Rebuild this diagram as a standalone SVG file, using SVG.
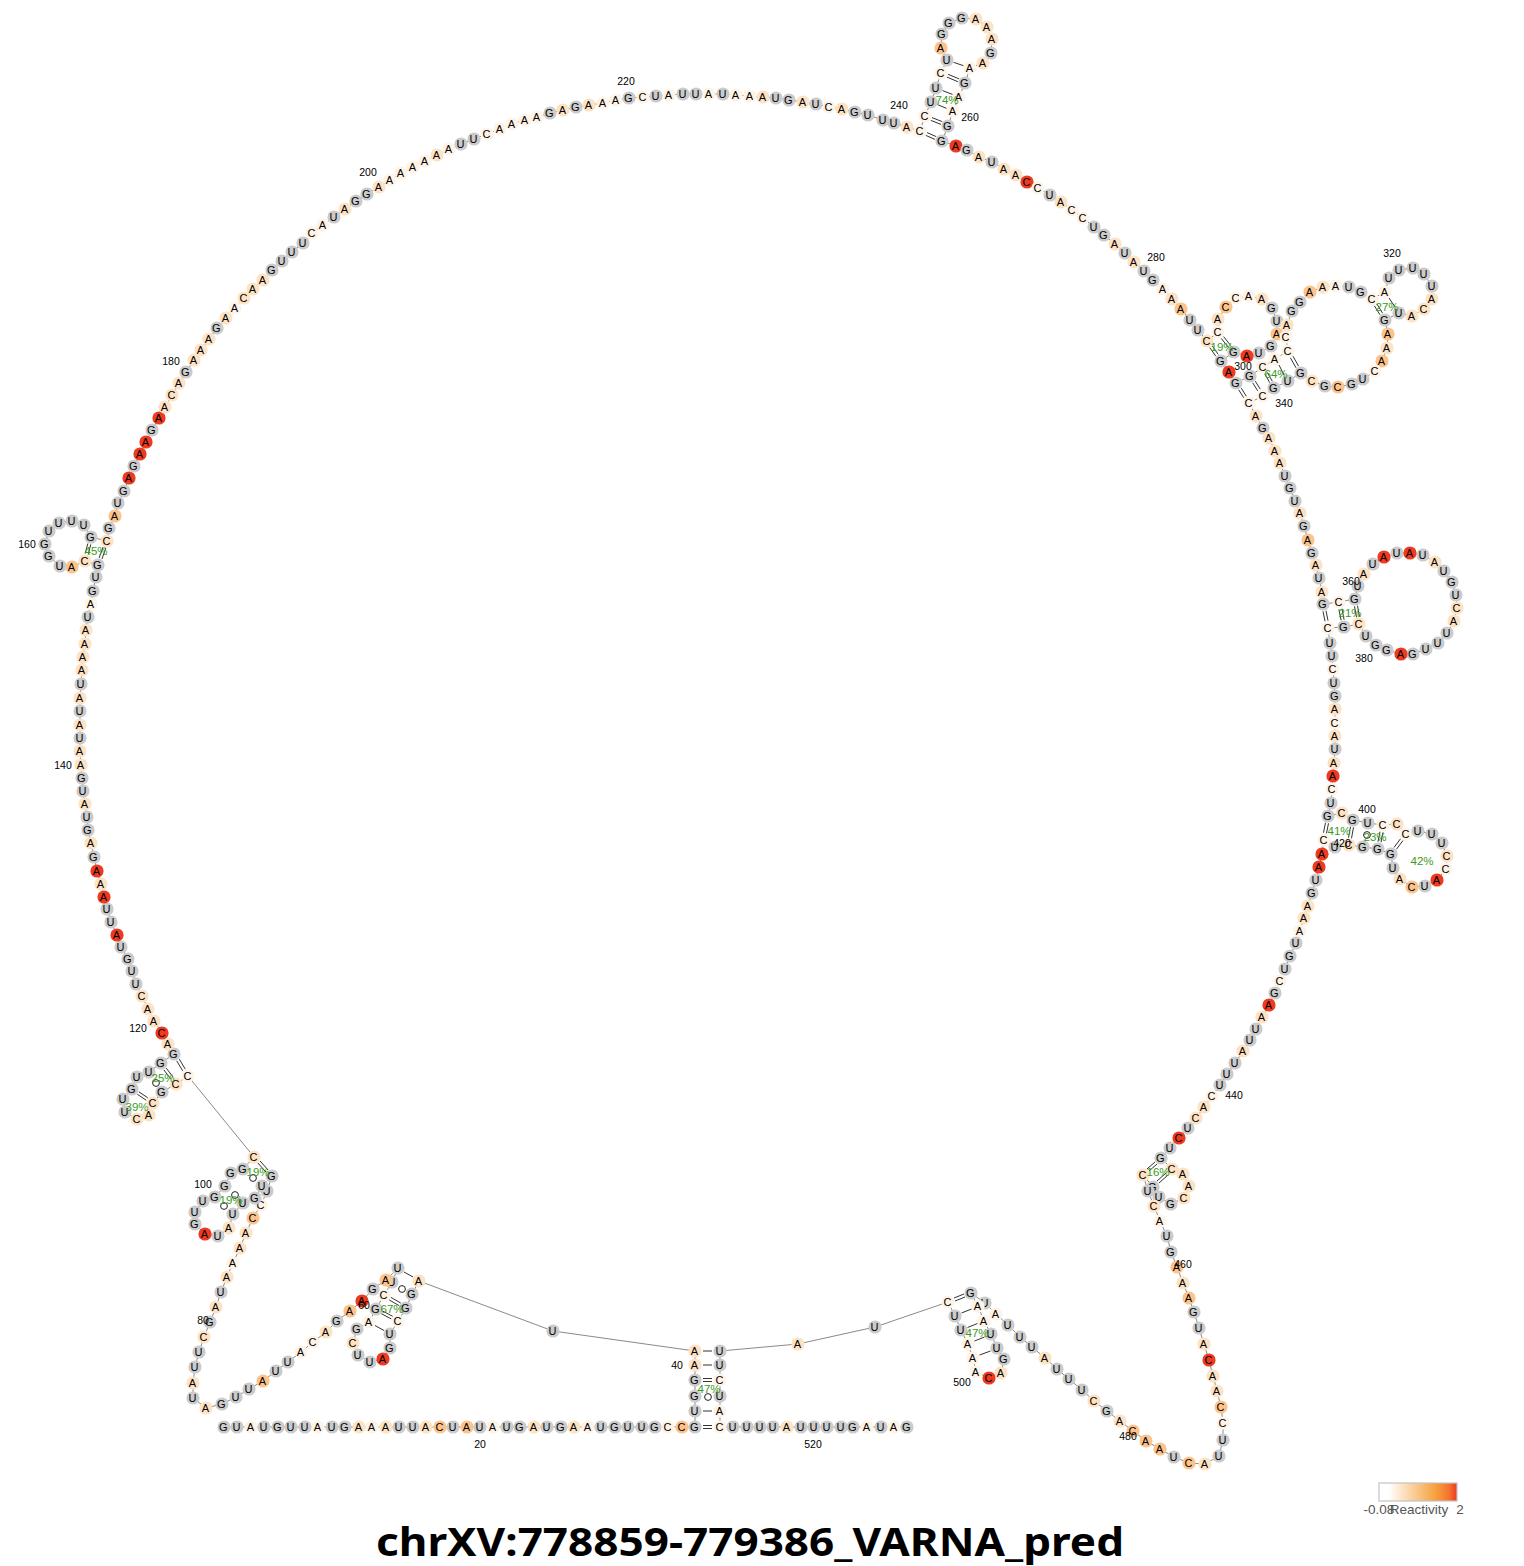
<svg xmlns="http://www.w3.org/2000/svg" width="1524" height="1566" viewBox="0 0 1524 1566">
<style>
text{font-family:"Liberation Sans",Arial,sans-serif;fill:#000}
.n circle{r:6.6px}
.n text{font-size:11px;text-anchor:middle;transform:translate(-.6px,3.6px)}
.g circle{fill:#cbcbcb}.w circle{fill:#fff3e6}.l circle{fill:#fee2c4}.m circle{fill:#fcc48c}.r circle{fill:#ee3a20}
.lab{font-size:10.5px;text-anchor:middle}
.pct{font-size:11.5px;text-anchor:middle;fill:#3c9a1e}
#backbone{fill:none;stroke:#8a8a8a;stroke-width:1}
.p{fill:none;stroke:#333;stroke-width:1}
.o{fill:#fff;stroke:#222;stroke-width:1}
.leg{font-size:13.5px;fill:#555;text-anchor:middle}
</style>
<defs><linearGradient id="grad"><stop offset="0" stop-color="#fff"/><stop offset=".12" stop-color="#fff"/><stop offset=".72" stop-color="#f6a23f"/><stop offset=".9" stop-color="#f4722e"/><stop offset="1" stop-color="#ee3a20"/></linearGradient></defs>
<g id="connectors">
<polyline id="backbone" points="224,1427 237,1427 251,1427 264,1427 278,1427 291,1427 305,1427 318,1427 332,1427 345,1427 359,1427 372,1427 386,1427 399,1427 413,1427 426,1427 440,1427 453,1427 467,1427 480,1427 493,1427 507,1427 520,1427 534,1427 547,1427 561,1427 574,1427 588,1427 601,1427 615,1427 628,1427 642,1427 655,1427 668,1427 682,1427 695,1427 695,1411 695,1396 695,1380 695,1365 695,1351 553,1331 419,1281 412,1294 406,1308 398,1321 390,1334 390,1348 383,1359 370,1362 358,1355 353,1343 357,1329 369,1322 376,1309 384,1295 392,1282 398,1268 386,1280 373,1289 362,1301 350,1311 337,1321 326,1332 313,1342 301,1352 288,1362 276,1371 263,1381 249,1389 236,1397 222,1404 206,1408 193,1398 193,1383 195,1367 199,1352 204,1337 210,1322 216,1307 221,1292 227,1277 233,1263 240,1248 246,1233 253,1218 261,1205 267,1191 272,1176 262,1186 255,1198 243,1203 233,1214 229,1228 218,1236 205,1234 195,1224 195,1212 203,1201 215,1197 225,1186 231,1173 243,1169 254,1157 188,1076 176,1084 162,1092 153,1103 149,1115 137,1119 125,1112 123,1099 132,1089 137,1077 149,1072 161,1063 174,1054 168,1044 162,1033 154,1021 148,1009 142,996 136,984 132,971 128,959 121,947 117,935 111,922 107,909 104,897 101,884 97,871 94,857 91,843 88,830 87,817 85,804 83,791 82,778 81,765 80,751 80,738 80,725 80,711 80,698 81,684 82,670 83,657 85,644 86,630 88,617 91,604 93,591 96,577 98,565 85,561 72,567 60,566 49,556 45,544 49,531 59,523 72,521 84,525 91,537 107,541 109,528 115,516 118,503 124,491 129,478 134,466 140,454 146,442 152,430 159,418 165,407 172,395 179,383 186,372 194,360 201,350 209,339 217,328 226,318 235,308 244,298 253,289 263,280 272,270 282,261 292,252 303,243 312,233 323,225 334,217 345,209 356,201 367,194 379,187 390,180 401,173 413,167 425,161 437,155 449,149 461,144 474,139 487,134 500,129 512,124 525,120 537,117 550,113 563,110 576,107 589,105 603,103 616,100 629,98 643,97 656,96 669,95 683,94 696,94 709,94 723,94 736,95 750,96 763,97 776,98 789,100 803,102 816,104 829,107 842,109 855,112 868,115 883,120 894,123 907,127 920,131 925,116 931,102 936,88 941,73 947,60 941,48 942,34 949,23 962,18 976,19 987,27 992,39 991,53 983,63 970,68 965,83 959,97 953,111 948,126 942,141 956,146 967,150 979,157 992,162 1004,169 1016,175 1027,182 1038,188 1050,195 1061,202 1072,210 1083,218 1094,227 1104,235 1115,244 1125,253 1134,262 1144,271 1153,280 1163,289 1172,299 1181,309 1190,320 1198,330 1207,341 1218,332 1218,319 1226,307 1236,298 1249,296 1262,299 1272,308 1277,321 1277,334 1271,346 1259,353 1247,356 1234,352 1221,361 1229,372 1236,383 1250,376 1263,367 1275,359 1288,351 1286,337 1287,325 1292,311 1300,302 1310,292 1323,287 1336,286 1349,287 1361,292 1372,299 1385,292 1389,278 1399,270 1413,268 1424,274 1432,286 1432,299 1424,309 1412,316 1399,313 1385,320 1388,334 1387,348 1382,361 1375,371 1363,379 1352,384 1338,387 1325,386 1312,381 1301,373 1288,381 1274,388 1263,396 1249,403 1256,416 1263,428 1269,438 1275,451 1280,463 1285,476 1290,488 1295,501 1300,513 1304,526 1308,540 1312,553 1316,565 1319,578 1322,592 1323,604 1339,602 1355,599 1358,586 1364,574 1373,564 1384,557 1397,553 1410,553 1423,555 1435,562 1444,571 1452,582 1456,595 1457,608 1454,621 1447,633 1438,643 1426,649 1413,654 1401,654 1387,650 1376,645 1366,636 1359,624 1344,627 1328,628 1330,643 1332,656 1333,669 1334,683 1335,696 1335,709 1335,723 1335,736 1335,749 1334,763 1333,776 1332,789 1331,803 1328,816 1342,813 1353,820 1368,823 1383,825 1397,824 1406,834 1418,831 1432,834 1442,843 1447,856 1446,869 1437,880 1425,886 1412,887 1400,879 1393,868 1391,854 1378,849 1363,847 1349,845 1335,847 1324,840 1322,854 1319,867 1316,880 1312,893 1308,906 1304,918 1300,931 1296,943 1290,956 1285,969 1280,981 1275,993 1269,1005 1262,1017 1256,1029 1250,1040 1243,1051 1235,1063 1227,1074 1220,1085 1212,1096 1204,1107 1196,1118 1188,1128 1179,1138 1170,1148 1161,1158 1172,1169 1183,1174 1189,1186 1184,1198 1171,1204 1159,1197 1153,1187 1143,1175 1148,1191 1154,1206 1160,1221 1167,1236 1171,1252 1177,1267 1183,1283 1189,1298 1194,1312 1199,1328 1204,1344 1209,1360 1213,1376 1217,1391 1221,1407 1223,1423 1223,1440 1219,1456 1205,1464 1189,1463 1174,1457 1160,1449 1146,1441 1133,1431 1120,1421 1107,1411 1094,1401 1082,1390 1069,1379 1057,1369 1045,1358 1032,1347 1020,1337 1008,1325 996,1314 985,1303 971,1293 978,1306 984,1321 991,1334 997,1348 1004,1359 1001,1373 989,1378 976,1372 973,1358 968,1344 961,1330 955,1316 948,1302 875,1327 798,1344 720,1351 720,1365 720,1380 720,1396 720,1411 720,1427 733,1427 747,1427 760,1427 773,1427 787,1427 801,1427 814,1427 827,1427 841,1427 853,1427 867,1427 881,1427 894,1427 907,1427"/>
<path class="p" d="M703 1425.5H712M703 1428.5H712M703 1411H712M703 1378.5H712M703 1381.5H712M703 1365H712M703 1351H712"/>
<path class="p" d="M955 1301L965 1297M954 1298L964 1294M961.5 1313L971.5 1309M967.5 1327.5L977.5 1323.5M974.5 1341L984.5 1337M979.5 1355L990.5 1351"/>
<path class="p" d="M404 1272L413 1277M389.2 1299.9L399.2 1305.7M390.8 1297.3L400.8 1303.1M381.3 1313.7L391.3 1318.9M382.7 1311.1L392.7 1316.3M375 1325.5L384 1330.5"/>
<path class="p" d="M257.9 1163L265.9 1172M260.1 1161L268.1 1170M176.7 1060.8L182.7 1070.8M179.3 1059.2L185.3 1069.2M163.8 1069.9L170.8 1078.9M166.2 1068.1L173.2 1077.1M137.2 1094.2L146.2 1100.2M138.8 1091.8L147.8 1097.8"/>
<path class="p" d="M105.9 548L101.9 559M103.1 547L99.1 558M90.8 544.4L88.2 554.4M87.8 543.6L85.2 553.6"/>
<path class="p" d="M925.8 135.4L935 139.4M927 132.6L936.2 136.6M930.8 120.4L941 124.4M932 117.6L942.2 121.6M937.5 104.6L946.5 108.4M942.5 90.6L952.5 94.4M946.9 77.1L957.9 81.7M948.1 74.3L959.1 78.9M953.6 62.3L963.4 65.7"/>
<path class="p" d="M1209.8 347.6L1215.8 356.2M1212.2 345.8L1218.2 354.4M1221.2 338.4L1228.4 347.4M1223.6 336.6L1230.8 345.6M1238.7 389.8L1243.7 397.8M1241.3 388.2L1246.3 396.2M1252.7 382.8L1257.7 390.8M1255.3 381.2L1260.3 389.2M1264.7 373.7L1269.7 382.7M1267.3 372.3L1272.3 381.3M1279 365L1284 375M1290.4 357.8L1296 367.8M1293 356.2L1298.6 366.2M1374.4 305.8L1380 314.8M1377 304.2L1382.6 313.2M1389 298L1395 307"/>
<path class="p" d="M1326 610.7L1328 620.7M1323 611.3L1325 621.3M1341.9 608.7L1344.1 619.7M1338.9 609.3L1341.1 620.3M1357.5 605.7L1359.5 616.7M1354.5 606.3L1356.5 617.3M1328.5 823.3L1326.5 833.3M1325.5 822.7L1323.5 832.7M1353.5 827.3L1351.5 838.3M1350.5 826.7L1348.5 837.7M1383 832.3L1381 842.3M1380 831.7L1378 841.7M1403 840.5L1396.4 849.3M1400.6 838.7L1394 847.5"/>
<path class="p" d="M1157 1164L1149 1171M1155 1162L1147 1169M1168 1175L1159 1183M1166 1173L1157 1181"/>
<circle class="o" cx="708" cy="1397" r="3.4"/><circle class="o" cx="402" cy="1289" r="3.4"/><circle class="o" cx="253" cy="1178" r="3.4"/><circle class="o" cx="235" cy="1195" r="3.4"/><circle class="o" cx="224" cy="1206" r="3.4"/><circle class="o" cx="156" cy="1083" r="3.4"/><circle class="o" cx="1367" cy="835" r="3.4"/>
</g>
<g id="nodes" class="n">
<g id="n1" class="g" transform="translate(224 1427)"><circle/><text>G</text></g>
<g id="n2" class="g" transform="translate(237 1427)"><circle/><text>U</text></g>
<g id="n3" class="w" transform="translate(251 1427)"><circle/><text>A</text></g>
<g id="n4" class="g" transform="translate(264 1427)"><circle/><text>U</text></g>
<g id="n5" class="g" transform="translate(278 1427)"><circle/><text>G</text></g>
<g id="n6" class="g" transform="translate(291 1427)"><circle/><text>U</text></g>
<g id="n7" class="g" transform="translate(305 1427)"><circle/><text>U</text></g>
<g id="n8" class="w" transform="translate(318 1427)"><circle/><text>A</text></g>
<g id="n9" class="g" transform="translate(332 1427)"><circle/><text>U</text></g>
<g id="n10" class="g" transform="translate(345 1427)"><circle/><text>G</text></g>
<g id="n11" class="l" transform="translate(359 1427)"><circle/><text>A</text></g>
<g id="n12" class="w" transform="translate(372 1427)"><circle/><text>A</text></g>
<g id="n13" class="l" transform="translate(386 1427)"><circle/><text>A</text></g>
<g id="n14" class="g" transform="translate(399 1427)"><circle/><text>U</text></g>
<g id="n15" class="g" transform="translate(413 1427)"><circle/><text>U</text></g>
<g id="n16" class="l" transform="translate(426 1427)"><circle/><text>A</text></g>
<g id="n17" class="m" transform="translate(440 1427)"><circle/><text>C</text></g>
<g id="n18" class="g" transform="translate(453 1427)"><circle/><text>U</text></g>
<g id="n19" class="m" transform="translate(467 1427)"><circle/><text>A</text></g>
<g id="n20" class="g" transform="translate(480 1427)"><circle/><text>U</text></g>
<g id="n21" class="w" transform="translate(493 1427)"><circle/><text>A</text></g>
<g id="n22" class="g" transform="translate(507 1427)"><circle/><text>U</text></g>
<g id="n23" class="g" transform="translate(520 1427)"><circle/><text>G</text></g>
<g id="n24" class="l" transform="translate(534 1427)"><circle/><text>A</text></g>
<g id="n25" class="g" transform="translate(547 1427)"><circle/><text>U</text></g>
<g id="n26" class="g" transform="translate(561 1427)"><circle/><text>G</text></g>
<g id="n27" class="l" transform="translate(574 1427)"><circle/><text>A</text></g>
<g id="n28" class="w" transform="translate(588 1427)"><circle/><text>A</text></g>
<g id="n29" class="g" transform="translate(601 1427)"><circle/><text>U</text></g>
<g id="n30" class="g" transform="translate(615 1427)"><circle/><text>G</text></g>
<g id="n31" class="g" transform="translate(628 1427)"><circle/><text>U</text></g>
<g id="n32" class="g" transform="translate(642 1427)"><circle/><text>U</text></g>
<g id="n33" class="g" transform="translate(655 1427)"><circle/><text>G</text></g>
<g id="n34" class="w" transform="translate(668 1427)"><circle/><text>C</text></g>
<g id="n35" class="m" transform="translate(682 1427)"><circle/><text>C</text></g>
<g id="n36" class="g" transform="translate(695 1427)"><circle/><text>G</text></g>
<g id="n37" class="g" transform="translate(695 1411)"><circle/><text>U</text></g>
<g id="n38" class="g" transform="translate(695 1396)"><circle/><text>G</text></g>
<g id="n39" class="g" transform="translate(695 1380)"><circle/><text>G</text></g>
<g id="n40" class="l" transform="translate(695 1365)"><circle/><text>A</text></g>
<g id="n41" class="l" transform="translate(695 1351)"><circle/><text>A</text></g>
<g id="n42" class="g" transform="translate(553 1331)"><circle/><text>U</text></g>
<g id="n43" class="l" transform="translate(419 1281)"><circle/><text>A</text></g>
<g id="n44" class="g" transform="translate(412 1294)"><circle/><text>G</text></g>
<g id="n45" class="g" transform="translate(406 1308)"><circle/><text>G</text></g>
<g id="n46" class="w" transform="translate(398 1321)"><circle/><text>C</text></g>
<g id="n47" class="g" transform="translate(390 1334)"><circle/><text>U</text></g>
<g id="n48" class="g" transform="translate(390 1348)"><circle/><text>G</text></g>
<g id="n49" class="r" transform="translate(383 1359)"><circle/><text>A</text></g>
<g id="n50" class="g" transform="translate(370 1362)"><circle/><text>U</text></g>
<g id="n51" class="g" transform="translate(358 1355)"><circle/><text>U</text></g>
<g id="n52" class="l" transform="translate(353 1343)"><circle/><text>C</text></g>
<g id="n53" class="g" transform="translate(357 1329)"><circle/><text>G</text></g>
<g id="n54" class="w" transform="translate(369 1322)"><circle/><text>A</text></g>
<g id="n55" class="g" transform="translate(376 1309)"><circle/><text>G</text></g>
<g id="n56" class="w" transform="translate(384 1295)"><circle/><text>C</text></g>
<g id="n57" class="g" transform="translate(392 1282)"><circle/><text>U</text></g>
<g id="n58" class="g" transform="translate(398 1268)"><circle/><text>U</text></g>
<g id="n59" class="m" transform="translate(386 1280)"><circle/><text>A</text></g>
<g id="n60" class="g" transform="translate(373 1289)"><circle/><text>G</text></g>
<g id="n61" class="r" transform="translate(362 1301)"><circle/><text>A</text></g>
<g id="n62" class="m" transform="translate(350 1311)"><circle/><text>A</text></g>
<g id="n63" class="g" transform="translate(337 1321)"><circle/><text>G</text></g>
<g id="n64" class="l" transform="translate(326 1332)"><circle/><text>A</text></g>
<g id="n65" class="w" transform="translate(313 1342)"><circle/><text>C</text></g>
<g id="n66" class="w" transform="translate(301 1352)"><circle/><text>A</text></g>
<g id="n67" class="g" transform="translate(288 1362)"><circle/><text>U</text></g>
<g id="n68" class="g" transform="translate(276 1371)"><circle/><text>U</text></g>
<g id="n69" class="m" transform="translate(263 1381)"><circle/><text>A</text></g>
<g id="n70" class="g" transform="translate(249 1389)"><circle/><text>U</text></g>
<g id="n71" class="g" transform="translate(236 1397)"><circle/><text>U</text></g>
<g id="n72" class="g" transform="translate(222 1404)"><circle/><text>G</text></g>
<g id="n73" class="l" transform="translate(206 1408)"><circle/><text>A</text></g>
<g id="n74" class="g" transform="translate(193 1398)"><circle/><text>U</text></g>
<g id="n75" class="l" transform="translate(193 1383)"><circle/><text>A</text></g>
<g id="n76" class="g" transform="translate(195 1367)"><circle/><text>U</text></g>
<g id="n77" class="g" transform="translate(199 1352)"><circle/><text>U</text></g>
<g id="n78" class="l" transform="translate(204 1337)"><circle/><text>C</text></g>
<g id="n79" class="g" transform="translate(210 1322)"><circle/><text>G</text></g>
<g id="n80" class="l" transform="translate(216 1307)"><circle/><text>A</text></g>
<g id="n81" class="g" transform="translate(221 1292)"><circle/><text>U</text></g>
<g id="n82" class="l" transform="translate(227 1277)"><circle/><text>A</text></g>
<g id="n83" class="w" transform="translate(233 1263)"><circle/><text>A</text></g>
<g id="n84" class="l" transform="translate(240 1248)"><circle/><text>A</text></g>
<g id="n85" class="l" transform="translate(246 1233)"><circle/><text>A</text></g>
<g id="n86" class="m" transform="translate(253 1218)"><circle/><text>C</text></g>
<g id="n87" class="w" transform="translate(261 1205)"><circle/><text>C</text></g>
<g id="n88" class="g" transform="translate(267 1191)"><circle/><text>U</text></g>
<g id="n89" class="g" transform="translate(272 1176)"><circle/><text>G</text></g>
<g id="n90" class="g" transform="translate(262 1186)"><circle/><text>U</text></g>
<g id="n91" class="g" transform="translate(255 1198)"><circle/><text>G</text></g>
<g id="n92" class="g" transform="translate(243 1203)"><circle/><text>U</text></g>
<g id="n93" class="g" transform="translate(233 1214)"><circle/><text>U</text></g>
<g id="n94" class="l" transform="translate(229 1228)"><circle/><text>A</text></g>
<g id="n95" class="g" transform="translate(218 1236)"><circle/><text>U</text></g>
<g id="n96" class="r" transform="translate(205 1234)"><circle/><text>A</text></g>
<g id="n97" class="g" transform="translate(195 1224)"><circle/><text>G</text></g>
<g id="n98" class="g" transform="translate(195 1212)"><circle/><text>U</text></g>
<g id="n99" class="g" transform="translate(203 1201)"><circle/><text>U</text></g>
<g id="n100" class="g" transform="translate(215 1197)"><circle/><text>G</text></g>
<g id="n101" class="g" transform="translate(225 1186)"><circle/><text>G</text></g>
<g id="n102" class="g" transform="translate(231 1173)"><circle/><text>G</text></g>
<g id="n103" class="g" transform="translate(243 1169)"><circle/><text>G</text></g>
<g id="n104" class="l" transform="translate(254 1157)"><circle/><text>C</text></g>
<g id="n105" class="w" transform="translate(188 1076)"><circle/><text>C</text></g>
<g id="n106" class="l" transform="translate(176 1084)"><circle/><text>C</text></g>
<g id="n107" class="g" transform="translate(162 1092)"><circle/><text>G</text></g>
<g id="n108" class="l" transform="translate(153 1103)"><circle/><text>C</text></g>
<g id="n109" class="l" transform="translate(149 1115)"><circle/><text>A</text></g>
<g id="n110" class="l" transform="translate(137 1119)"><circle/><text>C</text></g>
<g id="n111" class="g" transform="translate(125 1112)"><circle/><text>U</text></g>
<g id="n112" class="g" transform="translate(123 1099)"><circle/><text>U</text></g>
<g id="n113" class="g" transform="translate(132 1089)"><circle/><text>G</text></g>
<g id="n114" class="g" transform="translate(137 1077)"><circle/><text>U</text></g>
<g id="n115" class="g" transform="translate(149 1072)"><circle/><text>U</text></g>
<g id="n116" class="g" transform="translate(161 1063)"><circle/><text>G</text></g>
<g id="n117" class="g" transform="translate(174 1054)"><circle/><text>G</text></g>
<g id="n118" class="l" transform="translate(168 1044)"><circle/><text>A</text></g>
<g id="n119" class="r" transform="translate(162 1033)"><circle/><text>C</text></g>
<g id="n120" class="l" transform="translate(154 1021)"><circle/><text>A</text></g>
<g id="n121" class="l" transform="translate(148 1009)"><circle/><text>A</text></g>
<g id="n122" class="l" transform="translate(142 996)"><circle/><text>C</text></g>
<g id="n123" class="g" transform="translate(136 984)"><circle/><text>U</text></g>
<g id="n124" class="g" transform="translate(132 971)"><circle/><text>U</text></g>
<g id="n125" class="g" transform="translate(128 959)"><circle/><text>G</text></g>
<g id="n126" class="g" transform="translate(121 947)"><circle/><text>U</text></g>
<g id="n127" class="r" transform="translate(117 935)"><circle/><text>A</text></g>
<g id="n128" class="g" transform="translate(111 922)"><circle/><text>U</text></g>
<g id="n129" class="g" transform="translate(107 909)"><circle/><text>U</text></g>
<g id="n130" class="r" transform="translate(104 897)"><circle/><text>A</text></g>
<g id="n131" class="l" transform="translate(101 884)"><circle/><text>A</text></g>
<g id="n132" class="r" transform="translate(97 871)"><circle/><text>A</text></g>
<g id="n133" class="g" transform="translate(94 857)"><circle/><text>G</text></g>
<g id="n134" class="l" transform="translate(91 843)"><circle/><text>A</text></g>
<g id="n135" class="g" transform="translate(88 830)"><circle/><text>G</text></g>
<g id="n136" class="g" transform="translate(87 817)"><circle/><text>U</text></g>
<g id="n137" class="l" transform="translate(85 804)"><circle/><text>A</text></g>
<g id="n138" class="g" transform="translate(83 791)"><circle/><text>U</text></g>
<g id="n139" class="g" transform="translate(82 778)"><circle/><text>G</text></g>
<g id="n140" class="l" transform="translate(81 765)"><circle/><text>A</text></g>
<g id="n141" class="l" transform="translate(80 751)"><circle/><text>A</text></g>
<g id="n142" class="g" transform="translate(80 738)"><circle/><text>U</text></g>
<g id="n143" class="l" transform="translate(80 725)"><circle/><text>A</text></g>
<g id="n144" class="g" transform="translate(80 711)"><circle/><text>U</text></g>
<g id="n145" class="l" transform="translate(80 698)"><circle/><text>A</text></g>
<g id="n146" class="g" transform="translate(81 684)"><circle/><text>U</text></g>
<g id="n147" class="l" transform="translate(82 670)"><circle/><text>A</text></g>
<g id="n148" class="l" transform="translate(83 657)"><circle/><text>A</text></g>
<g id="n149" class="l" transform="translate(85 644)"><circle/><text>A</text></g>
<g id="n150" class="l" transform="translate(86 630)"><circle/><text>A</text></g>
<g id="n151" class="g" transform="translate(88 617)"><circle/><text>U</text></g>
<g id="n152" class="w" transform="translate(91 604)"><circle/><text>A</text></g>
<g id="n153" class="g" transform="translate(93 591)"><circle/><text>G</text></g>
<g id="n154" class="g" transform="translate(96 577)"><circle/><text>U</text></g>
<g id="n155" class="g" transform="translate(98 565)"><circle/><text>G</text></g>
<g id="n156" class="l" transform="translate(85 561)"><circle/><text>C</text></g>
<g id="n157" class="m" transform="translate(72 567)"><circle/><text>A</text></g>
<g id="n158" class="g" transform="translate(60 566)"><circle/><text>U</text></g>
<g id="n159" class="g" transform="translate(49 556)"><circle/><text>G</text></g>
<g id="n160" class="g" transform="translate(45 544)"><circle/><text>G</text></g>
<g id="n161" class="g" transform="translate(49 531)"><circle/><text>U</text></g>
<g id="n162" class="g" transform="translate(59 523)"><circle/><text>U</text></g>
<g id="n163" class="g" transform="translate(72 521)"><circle/><text>U</text></g>
<g id="n164" class="g" transform="translate(84 525)"><circle/><text>U</text></g>
<g id="n165" class="g" transform="translate(91 537)"><circle/><text>G</text></g>
<g id="n166" class="l" transform="translate(107 541)"><circle/><text>C</text></g>
<g id="n167" class="g" transform="translate(109 528)"><circle/><text>G</text></g>
<g id="n168" class="m" transform="translate(115 516)"><circle/><text>A</text></g>
<g id="n169" class="g" transform="translate(118 503)"><circle/><text>U</text></g>
<g id="n170" class="g" transform="translate(124 491)"><circle/><text>G</text></g>
<g id="n171" class="r" transform="translate(129 478)"><circle/><text>A</text></g>
<g id="n172" class="g" transform="translate(134 466)"><circle/><text>G</text></g>
<g id="n173" class="r" transform="translate(140 454)"><circle/><text>A</text></g>
<g id="n174" class="r" transform="translate(146 442)"><circle/><text>A</text></g>
<g id="n175" class="g" transform="translate(152 430)"><circle/><text>G</text></g>
<g id="n176" class="r" transform="translate(159 418)"><circle/><text>A</text></g>
<g id="n177" class="l" transform="translate(165 407)"><circle/><text>A</text></g>
<g id="n178" class="l" transform="translate(172 395)"><circle/><text>C</text></g>
<g id="n179" class="l" transform="translate(179 383)"><circle/><text>A</text></g>
<g id="n180" class="g" transform="translate(186 372)"><circle/><text>G</text></g>
<g id="n181" class="l" transform="translate(194 360)"><circle/><text>A</text></g>
<g id="n182" class="l" transform="translate(201 350)"><circle/><text>A</text></g>
<g id="n183" class="l" transform="translate(209 339)"><circle/><text>A</text></g>
<g id="n184" class="g" transform="translate(217 328)"><circle/><text>G</text></g>
<g id="n185" class="l" transform="translate(226 318)"><circle/><text>A</text></g>
<g id="n186" class="w" transform="translate(235 308)"><circle/><text>A</text></g>
<g id="n187" class="l" transform="translate(244 298)"><circle/><text>C</text></g>
<g id="n188" class="l" transform="translate(253 289)"><circle/><text>A</text></g>
<g id="n189" class="l" transform="translate(263 280)"><circle/><text>A</text></g>
<g id="n190" class="g" transform="translate(272 270)"><circle/><text>G</text></g>
<g id="n191" class="g" transform="translate(282 261)"><circle/><text>U</text></g>
<g id="n192" class="g" transform="translate(292 252)"><circle/><text>U</text></g>
<g id="n193" class="g" transform="translate(303 243)"><circle/><text>U</text></g>
<g id="n194" class="w" transform="translate(312 233)"><circle/><text>C</text></g>
<g id="n195" class="w" transform="translate(323 225)"><circle/><text>A</text></g>
<g id="n196" class="g" transform="translate(334 217)"><circle/><text>U</text></g>
<g id="n197" class="l" transform="translate(345 209)"><circle/><text>A</text></g>
<g id="n198" class="g" transform="translate(356 201)"><circle/><text>G</text></g>
<g id="n199" class="g" transform="translate(367 194)"><circle/><text>G</text></g>
<g id="n200" class="l" transform="translate(379 187)"><circle/><text>A</text></g>
<g id="n201" class="w" transform="translate(390 180)"><circle/><text>A</text></g>
<g id="n202" class="w" transform="translate(401 173)"><circle/><text>A</text></g>
<g id="n203" class="w" transform="translate(413 167)"><circle/><text>A</text></g>
<g id="n204" class="w" transform="translate(425 161)"><circle/><text>A</text></g>
<g id="n205" class="l" transform="translate(437 155)"><circle/><text>A</text></g>
<g id="n206" class="w" transform="translate(449 149)"><circle/><text>A</text></g>
<g id="n207" class="g" transform="translate(461 144)"><circle/><text>U</text></g>
<g id="n208" class="g" transform="translate(474 139)"><circle/><text>U</text></g>
<g id="n209" class="w" transform="translate(487 134)"><circle/><text>C</text></g>
<g id="n210" class="w" transform="translate(500 129)"><circle/><text>A</text></g>
<g id="n211" class="w" transform="translate(512 124)"><circle/><text>A</text></g>
<g id="n212" class="w" transform="translate(525 120)"><circle/><text>A</text></g>
<g id="n213" class="w" transform="translate(537 117)"><circle/><text>A</text></g>
<g id="n214" class="g" transform="translate(550 113)"><circle/><text>G</text></g>
<g id="n215" class="l" transform="translate(563 110)"><circle/><text>A</text></g>
<g id="n216" class="g" transform="translate(576 107)"><circle/><text>G</text></g>
<g id="n217" class="l" transform="translate(589 105)"><circle/><text>A</text></g>
<g id="n218" class="w" transform="translate(603 103)"><circle/><text>A</text></g>
<g id="n219" class="w" transform="translate(616 100)"><circle/><text>A</text></g>
<g id="n220" class="g" transform="translate(629 98)"><circle/><text>G</text></g>
<g id="n221" class="w" transform="translate(643 97)"><circle/><text>C</text></g>
<g id="n222" class="g" transform="translate(656 96)"><circle/><text>U</text></g>
<g id="n223" class="w" transform="translate(669 95)"><circle/><text>A</text></g>
<g id="n224" class="g" transform="translate(683 94)"><circle/><text>U</text></g>
<g id="n225" class="g" transform="translate(696 94)"><circle/><text>U</text></g>
<g id="n226" class="w" transform="translate(709 94)"><circle/><text>A</text></g>
<g id="n227" class="g" transform="translate(723 94)"><circle/><text>U</text></g>
<g id="n228" class="w" transform="translate(736 95)"><circle/><text>A</text></g>
<g id="n229" class="w" transform="translate(750 96)"><circle/><text>A</text></g>
<g id="n230" class="l" transform="translate(763 97)"><circle/><text>A</text></g>
<g id="n231" class="g" transform="translate(776 98)"><circle/><text>U</text></g>
<g id="n232" class="g" transform="translate(789 100)"><circle/><text>G</text></g>
<g id="n233" class="l" transform="translate(803 102)"><circle/><text>A</text></g>
<g id="n234" class="g" transform="translate(816 104)"><circle/><text>U</text></g>
<g id="n235" class="w" transform="translate(829 107)"><circle/><text>C</text></g>
<g id="n236" class="l" transform="translate(842 109)"><circle/><text>A</text></g>
<g id="n237" class="g" transform="translate(855 112)"><circle/><text>G</text></g>
<g id="n238" class="g" transform="translate(868 115)"><circle/><text>U</text></g>
<g id="n239" class="g" transform="translate(883 120)"><circle/><text>U</text></g>
<g id="n240" class="g" transform="translate(894 123)"><circle/><text>U</text></g>
<g id="n241" class="l" transform="translate(907 127)"><circle/><text>A</text></g>
<g id="n242" class="w" transform="translate(920 131)"><circle/><text>C</text></g>
<g id="n243" class="w" transform="translate(925 116)"><circle/><text>C</text></g>
<g id="n244" class="g" transform="translate(931 102)"><circle/><text>U</text></g>
<g id="n245" class="g" transform="translate(936 88)"><circle/><text>U</text></g>
<g id="n246" class="w" transform="translate(941 73)"><circle/><text>C</text></g>
<g id="n247" class="g" transform="translate(947 60)"><circle/><text>U</text></g>
<g id="n248" class="m" transform="translate(941 48)"><circle/><text>A</text></g>
<g id="n249" class="g" transform="translate(942 34)"><circle/><text>G</text></g>
<g id="n250" class="g" transform="translate(949 23)"><circle/><text>G</text></g>
<g id="n251" class="g" transform="translate(962 18)"><circle/><text>G</text></g>
<g id="n252" class="l" transform="translate(976 19)"><circle/><text>A</text></g>
<g id="n253" class="l" transform="translate(987 27)"><circle/><text>A</text></g>
<g id="n254" class="l" transform="translate(992 39)"><circle/><text>A</text></g>
<g id="n255" class="g" transform="translate(991 53)"><circle/><text>G</text></g>
<g id="n256" class="l" transform="translate(983 63)"><circle/><text>A</text></g>
<g id="n257" class="w" transform="translate(970 68)"><circle/><text>A</text></g>
<g id="n258" class="g" transform="translate(965 83)"><circle/><text>G</text></g>
<g id="n259" class="w" transform="translate(959 97)"><circle/><text>A</text></g>
<g id="n260" class="w" transform="translate(953 111)"><circle/><text>A</text></g>
<g id="n261" class="g" transform="translate(948 126)"><circle/><text>G</text></g>
<g id="n262" class="g" transform="translate(942 141)"><circle/><text>G</text></g>
<g id="n263" class="r" transform="translate(956 146)"><circle/><text>A</text></g>
<g id="n264" class="g" transform="translate(967 150)"><circle/><text>G</text></g>
<g id="n265" class="l" transform="translate(979 157)"><circle/><text>A</text></g>
<g id="n266" class="g" transform="translate(992 162)"><circle/><text>U</text></g>
<g id="n267" class="l" transform="translate(1004 169)"><circle/><text>A</text></g>
<g id="n268" class="l" transform="translate(1016 175)"><circle/><text>A</text></g>
<g id="n269" class="r" transform="translate(1027 182)"><circle/><text>C</text></g>
<g id="n270" class="w" transform="translate(1038 188)"><circle/><text>C</text></g>
<g id="n271" class="g" transform="translate(1050 195)"><circle/><text>U</text></g>
<g id="n272" class="l" transform="translate(1061 202)"><circle/><text>A</text></g>
<g id="n273" class="w" transform="translate(1072 210)"><circle/><text>C</text></g>
<g id="n274" class="w" transform="translate(1083 218)"><circle/><text>C</text></g>
<g id="n275" class="g" transform="translate(1094 227)"><circle/><text>U</text></g>
<g id="n276" class="g" transform="translate(1104 235)"><circle/><text>G</text></g>
<g id="n277" class="l" transform="translate(1115 244)"><circle/><text>A</text></g>
<g id="n278" class="g" transform="translate(1125 253)"><circle/><text>U</text></g>
<g id="n279" class="l" transform="translate(1134 262)"><circle/><text>A</text></g>
<g id="n280" class="g" transform="translate(1144 271)"><circle/><text>U</text></g>
<g id="n281" class="g" transform="translate(1153 280)"><circle/><text>G</text></g>
<g id="n282" class="w" transform="translate(1163 289)"><circle/><text>A</text></g>
<g id="n283" class="l" transform="translate(1172 299)"><circle/><text>A</text></g>
<g id="n284" class="m" transform="translate(1181 309)"><circle/><text>A</text></g>
<g id="n285" class="g" transform="translate(1190 320)"><circle/><text>U</text></g>
<g id="n286" class="g" transform="translate(1198 330)"><circle/><text>U</text></g>
<g id="n287" class="l" transform="translate(1207 341)"><circle/><text>C</text></g>
<g id="n288" class="w" transform="translate(1218 332)"><circle/><text>C</text></g>
<g id="n289" class="l" transform="translate(1218 319)"><circle/><text>A</text></g>
<g id="n290" class="m" transform="translate(1226 307)"><circle/><text>C</text></g>
<g id="n291" class="w" transform="translate(1236 298)"><circle/><text>C</text></g>
<g id="n292" class="w" transform="translate(1249 296)"><circle/><text>A</text></g>
<g id="n293" class="l" transform="translate(1262 299)"><circle/><text>A</text></g>
<g id="n294" class="g" transform="translate(1272 308)"><circle/><text>G</text></g>
<g id="n295" class="g" transform="translate(1277 321)"><circle/><text>U</text></g>
<g id="n296" class="m" transform="translate(1277 334)"><circle/><text>A</text></g>
<g id="n297" class="g" transform="translate(1271 346)"><circle/><text>G</text></g>
<g id="n298" class="g" transform="translate(1259 353)"><circle/><text>U</text></g>
<g id="n299" class="r" transform="translate(1247 356)"><circle/><text>A</text></g>
<g id="n300" class="g" transform="translate(1234 352)"><circle/><text>G</text></g>
<g id="n301" class="g" transform="translate(1221 361)"><circle/><text>G</text></g>
<g id="n302" class="r" transform="translate(1229 372)"><circle/><text>A</text></g>
<g id="n303" class="g" transform="translate(1236 383)"><circle/><text>G</text></g>
<g id="n304" class="g" transform="translate(1250 376)"><circle/><text>G</text></g>
<g id="n305" class="w" transform="translate(1263 367)"><circle/><text>C</text></g>
<g id="n306" class="w" transform="translate(1275 359)"><circle/><text>A</text></g>
<g id="n307" class="w" transform="translate(1288 351)"><circle/><text>C</text></g>
<g id="n308" class="w" transform="translate(1286 337)"><circle/><text>C</text></g>
<g id="n309" class="l" transform="translate(1287 325)"><circle/><text>A</text></g>
<g id="n310" class="g" transform="translate(1292 311)"><circle/><text>G</text></g>
<g id="n311" class="g" transform="translate(1300 302)"><circle/><text>G</text></g>
<g id="n312" class="m" transform="translate(1310 292)"><circle/><text>A</text></g>
<g id="n313" class="l" transform="translate(1323 287)"><circle/><text>A</text></g>
<g id="n314" class="w" transform="translate(1336 286)"><circle/><text>A</text></g>
<g id="n315" class="g" transform="translate(1349 287)"><circle/><text>U</text></g>
<g id="n316" class="g" transform="translate(1361 292)"><circle/><text>G</text></g>
<g id="n317" class="w" transform="translate(1372 299)"><circle/><text>C</text></g>
<g id="n318" class="w" transform="translate(1385 292)"><circle/><text>A</text></g>
<g id="n319" class="g" transform="translate(1389 278)"><circle/><text>U</text></g>
<g id="n320" class="g" transform="translate(1399 270)"><circle/><text>U</text></g>
<g id="n321" class="g" transform="translate(1413 268)"><circle/><text>U</text></g>
<g id="n322" class="g" transform="translate(1424 274)"><circle/><text>U</text></g>
<g id="n323" class="g" transform="translate(1432 286)"><circle/><text>U</text></g>
<g id="n324" class="l" transform="translate(1432 299)"><circle/><text>A</text></g>
<g id="n325" class="l" transform="translate(1424 309)"><circle/><text>C</text></g>
<g id="n326" class="l" transform="translate(1412 316)"><circle/><text>A</text></g>
<g id="n327" class="g" transform="translate(1399 313)"><circle/><text>U</text></g>
<g id="n328" class="g" transform="translate(1385 320)"><circle/><text>G</text></g>
<g id="n329" class="m" transform="translate(1388 334)"><circle/><text>A</text></g>
<g id="n330" class="l" transform="translate(1387 348)"><circle/><text>A</text></g>
<g id="n331" class="m" transform="translate(1382 361)"><circle/><text>A</text></g>
<g id="n332" class="w" transform="translate(1375 371)"><circle/><text>C</text></g>
<g id="n333" class="g" transform="translate(1363 379)"><circle/><text>U</text></g>
<g id="n334" class="g" transform="translate(1352 384)"><circle/><text>G</text></g>
<g id="n335" class="m" transform="translate(1338 387)"><circle/><text>C</text></g>
<g id="n336" class="g" transform="translate(1325 386)"><circle/><text>G</text></g>
<g id="n337" class="l" transform="translate(1312 381)"><circle/><text>C</text></g>
<g id="n338" class="g" transform="translate(1301 373)"><circle/><text>G</text></g>
<g id="n339" class="g" transform="translate(1288 381)"><circle/><text>U</text></g>
<g id="n340" class="g" transform="translate(1274 388)"><circle/><text>G</text></g>
<g id="n341" class="w" transform="translate(1263 396)"><circle/><text>C</text></g>
<g id="n342" class="w" transform="translate(1249 403)"><circle/><text>C</text></g>
<g id="n343" class="l" transform="translate(1256 416)"><circle/><text>A</text></g>
<g id="n344" class="g" transform="translate(1263 428)"><circle/><text>G</text></g>
<g id="n345" class="l" transform="translate(1269 438)"><circle/><text>A</text></g>
<g id="n346" class="l" transform="translate(1275 451)"><circle/><text>A</text></g>
<g id="n347" class="l" transform="translate(1280 463)"><circle/><text>A</text></g>
<g id="n348" class="g" transform="translate(1285 476)"><circle/><text>U</text></g>
<g id="n349" class="g" transform="translate(1290 488)"><circle/><text>G</text></g>
<g id="n350" class="g" transform="translate(1295 501)"><circle/><text>U</text></g>
<g id="n351" class="l" transform="translate(1300 513)"><circle/><text>A</text></g>
<g id="n352" class="g" transform="translate(1304 526)"><circle/><text>G</text></g>
<g id="n353" class="m" transform="translate(1308 540)"><circle/><text>A</text></g>
<g id="n354" class="g" transform="translate(1312 553)"><circle/><text>G</text></g>
<g id="n355" class="l" transform="translate(1316 565)"><circle/><text>A</text></g>
<g id="n356" class="g" transform="translate(1319 578)"><circle/><text>U</text></g>
<g id="n357" class="l" transform="translate(1322 592)"><circle/><text>A</text></g>
<g id="n358" class="g" transform="translate(1323 604)"><circle/><text>G</text></g>
<g id="n359" class="w" transform="translate(1339 602)"><circle/><text>C</text></g>
<g id="n360" class="g" transform="translate(1355 599)"><circle/><text>G</text></g>
<g id="n361" class="g" transform="translate(1358 586)"><circle/><text>U</text></g>
<g id="n362" class="l" transform="translate(1364 574)"><circle/><text>A</text></g>
<g id="n363" class="g" transform="translate(1373 564)"><circle/><text>U</text></g>
<g id="n364" class="r" transform="translate(1384 557)"><circle/><text>A</text></g>
<g id="n365" class="g" transform="translate(1397 553)"><circle/><text>U</text></g>
<g id="n366" class="r" transform="translate(1410 553)"><circle/><text>A</text></g>
<g id="n367" class="g" transform="translate(1423 555)"><circle/><text>U</text></g>
<g id="n368" class="l" transform="translate(1435 562)"><circle/><text>A</text></g>
<g id="n369" class="g" transform="translate(1444 571)"><circle/><text>U</text></g>
<g id="n370" class="g" transform="translate(1452 582)"><circle/><text>G</text></g>
<g id="n371" class="g" transform="translate(1456 595)"><circle/><text>U</text></g>
<g id="n372" class="l" transform="translate(1457 608)"><circle/><text>C</text></g>
<g id="n373" class="l" transform="translate(1454 621)"><circle/><text>A</text></g>
<g id="n374" class="g" transform="translate(1447 633)"><circle/><text>U</text></g>
<g id="n375" class="g" transform="translate(1438 643)"><circle/><text>U</text></g>
<g id="n376" class="g" transform="translate(1426 649)"><circle/><text>U</text></g>
<g id="n377" class="g" transform="translate(1413 654)"><circle/><text>G</text></g>
<g id="n378" class="r" transform="translate(1401 654)"><circle/><text>A</text></g>
<g id="n379" class="g" transform="translate(1387 650)"><circle/><text>G</text></g>
<g id="n380" class="g" transform="translate(1376 645)"><circle/><text>G</text></g>
<g id="n381" class="g" transform="translate(1366 636)"><circle/><text>U</text></g>
<g id="n382" class="l" transform="translate(1359 624)"><circle/><text>C</text></g>
<g id="n383" class="g" transform="translate(1344 627)"><circle/><text>G</text></g>
<g id="n384" class="w" transform="translate(1328 628)"><circle/><text>C</text></g>
<g id="n385" class="g" transform="translate(1330 643)"><circle/><text>U</text></g>
<g id="n386" class="g" transform="translate(1332 656)"><circle/><text>U</text></g>
<g id="n387" class="w" transform="translate(1333 669)"><circle/><text>C</text></g>
<g id="n388" class="g" transform="translate(1334 683)"><circle/><text>U</text></g>
<g id="n389" class="g" transform="translate(1335 696)"><circle/><text>G</text></g>
<g id="n390" class="l" transform="translate(1335 709)"><circle/><text>A</text></g>
<g id="n391" class="w" transform="translate(1335 723)"><circle/><text>C</text></g>
<g id="n392" class="l" transform="translate(1335 736)"><circle/><text>A</text></g>
<g id="n393" class="g" transform="translate(1335 749)"><circle/><text>U</text></g>
<g id="n394" class="l" transform="translate(1334 763)"><circle/><text>A</text></g>
<g id="n395" class="r" transform="translate(1333 776)"><circle/><text>A</text></g>
<g id="n396" class="w" transform="translate(1332 789)"><circle/><text>C</text></g>
<g id="n397" class="g" transform="translate(1331 803)"><circle/><text>U</text></g>
<g id="n398" class="g" transform="translate(1328 816)"><circle/><text>G</text></g>
<g id="n399" class="l" transform="translate(1342 813)"><circle/><text>C</text></g>
<g id="n400" class="g" transform="translate(1353 820)"><circle/><text>G</text></g>
<g id="n401" class="g" transform="translate(1368 823)"><circle/><text>U</text></g>
<g id="n402" class="w" transform="translate(1383 825)"><circle/><text>C</text></g>
<g id="n403" class="l" transform="translate(1397 824)"><circle/><text>C</text></g>
<g id="n404" class="w" transform="translate(1406 834)"><circle/><text>C</text></g>
<g id="n405" class="g" transform="translate(1418 831)"><circle/><text>U</text></g>
<g id="n406" class="g" transform="translate(1432 834)"><circle/><text>U</text></g>
<g id="n407" class="g" transform="translate(1442 843)"><circle/><text>U</text></g>
<g id="n408" class="l" transform="translate(1447 856)"><circle/><text>C</text></g>
<g id="n409" class="w" transform="translate(1446 869)"><circle/><text>C</text></g>
<g id="n410" class="r" transform="translate(1437 880)"><circle/><text>A</text></g>
<g id="n411" class="g" transform="translate(1425 886)"><circle/><text>U</text></g>
<g id="n412" class="m" transform="translate(1412 887)"><circle/><text>C</text></g>
<g id="n413" class="l" transform="translate(1400 879)"><circle/><text>A</text></g>
<g id="n414" class="g" transform="translate(1393 868)"><circle/><text>U</text></g>
<g id="n415" class="g" transform="translate(1391 854)"><circle/><text>G</text></g>
<g id="n416" class="g" transform="translate(1378 849)"><circle/><text>G</text></g>
<g id="n417" class="g" transform="translate(1363 847)"><circle/><text>G</text></g>
<g id="n418" class="l" transform="translate(1349 845)"><circle/><text>C</text></g>
<g id="n419" class="g" transform="translate(1335 847)"><circle/><text>U</text></g>
<g id="n420" class="w" transform="translate(1324 840)"><circle/><text>C</text></g>
<g id="n421" class="r" transform="translate(1322 854)"><circle/><text>A</text></g>
<g id="n422" class="r" transform="translate(1319 867)"><circle/><text>A</text></g>
<g id="n423" class="g" transform="translate(1316 880)"><circle/><text>U</text></g>
<g id="n424" class="g" transform="translate(1312 893)"><circle/><text>G</text></g>
<g id="n425" class="l" transform="translate(1308 906)"><circle/><text>A</text></g>
<g id="n426" class="l" transform="translate(1304 918)"><circle/><text>A</text></g>
<g id="n427" class="w" transform="translate(1300 931)"><circle/><text>A</text></g>
<g id="n428" class="g" transform="translate(1296 943)"><circle/><text>U</text></g>
<g id="n429" class="g" transform="translate(1290 956)"><circle/><text>G</text></g>
<g id="n430" class="g" transform="translate(1285 969)"><circle/><text>U</text></g>
<g id="n431" class="w" transform="translate(1280 981)"><circle/><text>C</text></g>
<g id="n432" class="g" transform="translate(1275 993)"><circle/><text>G</text></g>
<g id="n433" class="r" transform="translate(1269 1005)"><circle/><text>A</text></g>
<g id="n434" class="l" transform="translate(1262 1017)"><circle/><text>A</text></g>
<g id="n435" class="g" transform="translate(1256 1029)"><circle/><text>U</text></g>
<g id="n436" class="g" transform="translate(1250 1040)"><circle/><text>U</text></g>
<g id="n437" class="l" transform="translate(1243 1051)"><circle/><text>A</text></g>
<g id="n438" class="g" transform="translate(1235 1063)"><circle/><text>U</text></g>
<g id="n439" class="g" transform="translate(1227 1074)"><circle/><text>U</text></g>
<g id="n440" class="g" transform="translate(1220 1085)"><circle/><text>U</text></g>
<g id="n441" class="w" transform="translate(1212 1096)"><circle/><text>C</text></g>
<g id="n442" class="l" transform="translate(1204 1107)"><circle/><text>A</text></g>
<g id="n443" class="l" transform="translate(1196 1118)"><circle/><text>C</text></g>
<g id="n444" class="g" transform="translate(1188 1128)"><circle/><text>U</text></g>
<g id="n445" class="r" transform="translate(1179 1138)"><circle/><text>C</text></g>
<g id="n446" class="g" transform="translate(1170 1148)"><circle/><text>U</text></g>
<g id="n447" class="g" transform="translate(1161 1158)"><circle/><text>G</text></g>
<g id="n448" class="l" transform="translate(1172 1169)"><circle/><text>C</text></g>
<g id="n449" class="l" transform="translate(1183 1174)"><circle/><text>A</text></g>
<g id="n450" class="l" transform="translate(1189 1186)"><circle/><text>A</text></g>
<g id="n451" class="l" transform="translate(1184 1198)"><circle/><text>C</text></g>
<g id="n452" class="g" transform="translate(1171 1204)"><circle/><text>G</text></g>
<g id="n453" class="g" transform="translate(1159 1197)"><circle/><text>U</text></g>
<g id="n454" class="g" transform="translate(1153 1187)"><circle/><text>G</text></g>
<g id="n455" class="l" transform="translate(1143 1175)"><circle/><text>C</text></g>
<g id="n456" class="g" transform="translate(1148 1191)"><circle/><text>U</text></g>
<g id="n457" class="l" transform="translate(1154 1206)"><circle/><text>C</text></g>
<g id="n458" class="w" transform="translate(1160 1221)"><circle/><text>A</text></g>
<g id="n459" class="g" transform="translate(1167 1236)"><circle/><text>U</text></g>
<g id="n460" class="g" transform="translate(1171 1252)"><circle/><text>G</text></g>
<g id="n461" class="m" transform="translate(1177 1267)"><circle/><text>A</text></g>
<g id="n462" class="l" transform="translate(1183 1283)"><circle/><text>A</text></g>
<g id="n463" class="m" transform="translate(1189 1298)"><circle/><text>A</text></g>
<g id="n464" class="g" transform="translate(1194 1312)"><circle/><text>G</text></g>
<g id="n465" class="g" transform="translate(1199 1328)"><circle/><text>U</text></g>
<g id="n466" class="l" transform="translate(1204 1344)"><circle/><text>A</text></g>
<g id="n467" class="r" transform="translate(1209 1360)"><circle/><text>C</text></g>
<g id="n468" class="l" transform="translate(1213 1376)"><circle/><text>A</text></g>
<g id="n469" class="l" transform="translate(1217 1391)"><circle/><text>A</text></g>
<g id="n470" class="m" transform="translate(1221 1407)"><circle/><text>C</text></g>
<g id="n471" class="w" transform="translate(1223 1423)"><circle/><text>C</text></g>
<g id="n472" class="g" transform="translate(1223 1440)"><circle/><text>U</text></g>
<g id="n473" class="g" transform="translate(1219 1456)"><circle/><text>U</text></g>
<g id="n474" class="l" transform="translate(1205 1464)"><circle/><text>A</text></g>
<g id="n475" class="m" transform="translate(1189 1463)"><circle/><text>C</text></g>
<g id="n476" class="g" transform="translate(1174 1457)"><circle/><text>U</text></g>
<g id="n477" class="m" transform="translate(1160 1449)"><circle/><text>A</text></g>
<g id="n478" class="m" transform="translate(1146 1441)"><circle/><text>A</text></g>
<g id="n479" class="m" transform="translate(1133 1431)"><circle/><text>C</text></g>
<g id="n480" class="l" transform="translate(1120 1421)"><circle/><text>A</text></g>
<g id="n481" class="g" transform="translate(1107 1411)"><circle/><text>G</text></g>
<g id="n482" class="l" transform="translate(1094 1401)"><circle/><text>C</text></g>
<g id="n483" class="g" transform="translate(1082 1390)"><circle/><text>U</text></g>
<g id="n484" class="g" transform="translate(1069 1379)"><circle/><text>U</text></g>
<g id="n485" class="g" transform="translate(1057 1369)"><circle/><text>U</text></g>
<g id="n486" class="l" transform="translate(1045 1358)"><circle/><text>A</text></g>
<g id="n487" class="g" transform="translate(1032 1347)"><circle/><text>U</text></g>
<g id="n488" class="g" transform="translate(1020 1337)"><circle/><text>U</text></g>
<g id="n489" class="g" transform="translate(1008 1325)"><circle/><text>U</text></g>
<g id="n490" class="w" transform="translate(996 1314)"><circle/><text>A</text></g>
<g id="n491" class="g" transform="translate(985 1303)"><circle/><text>U</text></g>
<g id="n492" class="g" transform="translate(971 1293)"><circle/><text>G</text></g>
<g id="n493" class="w" transform="translate(978 1306)"><circle/><text>A</text></g>
<g id="n494" class="w" transform="translate(984 1321)"><circle/><text>A</text></g>
<g id="n495" class="g" transform="translate(991 1334)"><circle/><text>U</text></g>
<g id="n496" class="g" transform="translate(997 1348)"><circle/><text>U</text></g>
<g id="n497" class="g" transform="translate(1004 1359)"><circle/><text>G</text></g>
<g id="n498" class="l" transform="translate(1001 1373)"><circle/><text>A</text></g>
<g id="n499" class="r" transform="translate(989 1378)"><circle/><text>C</text></g>
<g id="n500" class="w" transform="translate(976 1372)"><circle/><text>A</text></g>
<g id="n501" class="w" transform="translate(973 1358)"><circle/><text>A</text></g>
<g id="n502" class="w" transform="translate(968 1344)"><circle/><text>A</text></g>
<g id="n503" class="g" transform="translate(961 1330)"><circle/><text>U</text></g>
<g id="n504" class="g" transform="translate(955 1316)"><circle/><text>U</text></g>
<g id="n505" class="w" transform="translate(948 1302)"><circle/><text>C</text></g>
<g id="n506" class="g" transform="translate(875 1327)"><circle/><text>U</text></g>
<g id="n507" class="l" transform="translate(798 1344)"><circle/><text>A</text></g>
<g id="n508" class="g" transform="translate(720 1351)"><circle/><text>U</text></g>
<g id="n509" class="g" transform="translate(720 1365)"><circle/><text>U</text></g>
<g id="n510" class="w" transform="translate(720 1380)"><circle/><text>C</text></g>
<g id="n511" class="g" transform="translate(720 1396)"><circle/><text>U</text></g>
<g id="n512" class="w" transform="translate(720 1411)"><circle/><text>A</text></g>
<g id="n513" class="w" transform="translate(720 1427)"><circle/><text>C</text></g>
<g id="n514" class="g" transform="translate(733 1427)"><circle/><text>U</text></g>
<g id="n515" class="g" transform="translate(747 1427)"><circle/><text>U</text></g>
<g id="n516" class="g" transform="translate(760 1427)"><circle/><text>U</text></g>
<g id="n517" class="g" transform="translate(773 1427)"><circle/><text>U</text></g>
<g id="n518" class="l" transform="translate(787 1427)"><circle/><text>A</text></g>
<g id="n519" class="g" transform="translate(801 1427)"><circle/><text>U</text></g>
<g id="n520" class="g" transform="translate(814 1427)"><circle/><text>U</text></g>
<g id="n521" class="g" transform="translate(827 1427)"><circle/><text>U</text></g>
<g id="n522" class="g" transform="translate(841 1427)"><circle/><text>U</text></g>
<g id="n523" class="g" transform="translate(853 1427)"><circle/><text>G</text></g>
<g id="n524" class="w" transform="translate(867 1427)"><circle/><text>A</text></g>
<g id="n525" class="g" transform="translate(881 1427)"><circle/><text>U</text></g>
<g id="n526" class="w" transform="translate(894 1427)"><circle/><text>A</text></g>
<g id="n527" class="g" transform="translate(907 1427)"><circle/><text>G</text></g>
</g>
<g id="labels">
<text class="lab" x="480" y="1448">20</text><text class="lab" x="677" y="1369">40</text><text class="lab" x="364" y="1309">60</text><text class="lab" x="203" y="1324">80</text><text class="lab" x="203" y="1188">100</text><text class="lab" x="138" y="1032">120</text><text class="lab" x="63" y="769">140</text><text class="lab" x="27" y="548">160</text><text class="lab" x="171" y="365">180</text><text class="lab" x="368" y="176">200</text><text class="lab" x="626" y="85">220</text><text class="lab" x="899" y="109">240</text><text class="lab" x="970" y="121">260</text><text class="lab" x="1156" y="261">280</text><text class="lab" x="1243" y="370">300</text><text class="lab" x="1392" y="257">320</text><text class="lab" x="1284" y="407">340</text><text class="lab" x="1351" y="585">360</text><text class="lab" x="1364" y="662">380</text><text class="lab" x="1367" y="813">400</text><text class="lab" x="1342" y="847">420</text><text class="lab" x="1234" y="1099">440</text><text class="lab" x="1183" y="1268">460</text><text class="lab" x="1128" y="1440">480</text><text class="lab" x="962" y="1386">500</text><text class="lab" x="813" y="1448">520</text>
<text class="pct" x="709" y="1393">47%</text><text class="pct" x="392" y="1313">67%</text><text class="pct" x="231" y="1204">19%</text><text class="pct" x="258" y="1176">19%</text><text class="pct" x="163" y="1082">25%</text><text class="pct" x="137" y="1111">39%</text><text class="pct" x="96" y="555">45%</text><text class="pct" x="947" y="104">74%</text><text class="pct" x="1222" y="351">19%</text><text class="pct" x="1276" y="378">64%</text><text class="pct" x="1387" y="311">27%</text><text class="pct" x="1350" y="617">21%</text><text class="pct" x="1339" y="835">41%</text><text class="pct" x="1375" y="841">23%</text><text class="pct" x="1422" y="865">42%</text><text class="pct" x="1158" y="1176">16%</text><text class="pct" x="977" y="1337">47%</text>
</g>
<g id="legend">
<rect x="1379" y="1483" width="78" height="18" fill="url(#grad)" stroke="#c4c4c4" stroke-width="1.2"/>
<text class="leg" x="1379" y="1514">-0.08</text><text class="leg" x="1419" y="1514">Reactivity</text><text class="leg" x="1460" y="1514">2</text>
</g>
<text id="title" x="750" y="1556" font-size="38.5" font-weight="700" text-anchor="middle" textLength="748" lengthAdjust="spacingAndGlyphs" style="font-family:'Noto Sans','DejaVu Sans',sans-serif">chrXV:778859-779386_VARNA_pred</text>
</svg>
